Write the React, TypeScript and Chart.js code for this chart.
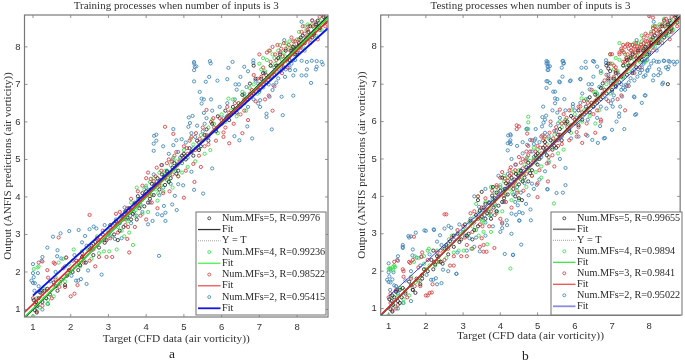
import React, { useEffect, useRef } from "react";
import { Chart, registerables } from "chart.js";

Chart.register(...registerables);

type P = [number, number];

const tickValues = [1, 2, 3, 4, 5, 6, 7, 8];
const titleA = "Training processes when number of inputs is 3";
const titleB = "Testing processes when number of inputs is 3";
const xTitle = "Target (CFD data (air vorticity))";
const yTitle = "Output (ANFIS predictions (air vorticity))";
const namesA = ["Num.MFs=5, R=0.9976", "Fit", "Y = T", "Num.MFs=4, R=0.99236", "Fit", "Num.MFs=3, R=0.98522", "Fit", "Num.MFs=2, R=0.95415", "Fit"];
const namesB = ["Num.MFs=5, R=0.99655", "Fit", "Y = T", "Num.MFs=4, R=0.9894", "Fit", "Num.MFs=3, R=0.9841", "Fit", "Num.MFs=2, R=0.95022", "Fit"];

const trainBlack: P[] = [[1.02,1.25],[1.05,0.98],[1.08,1.2],[1.1,0.92],[1.12,1.1],[1.2,1.45],[1.25,1.2],[1.3,1.5],[1.35,1.3],[1.45,1.4],[1.55,1.72],[1.65,1.5],[1.75,1.8],[1.85,1.65],[1.95,2.05],[2.05,2.0],[2.15,2.3],[2.2,2.05],[2.3,2.4],[2.4,2.25],[2.5,2.6],[2.6,2.45],[2.65,2.8],[2.75,2.65],[2.85,3.0],[2.95,2.85],[3.05,3.25],[3.15,3.0],[3.25,2.85],[3.35,3.5],[3.4,3.2],[3.5,3.45],[3.55,3.7],[3.65,3.55],[3.75,3.4],[3.78,4.02],[3.85,3.95],[3.95,3.75],[4.0,4.15],[4.1,3.95],[4.15,4.35],[4.2,4.05],[4.3,4.5],[4.35,4.2],[4.42,4.6],[4.5,4.32],[4.55,4.68],[4.65,4.5],[4.75,4.9],[4.85,4.7],[4.95,5.1],[5.05,5.0],[5.15,5.3],[5.25,5.1],[5.35,5.5],[5.45,5.35],[5.55,5.65],[5.65,5.5],[5.75,5.95],[5.85,5.75],[5.9,6.15],[6.0,5.95],[6.1,6.3],[6.2,6.05],[6.3,6.4],[6.4,6.25],[6.55,6.72],[6.7,6.6],[6.75,7.02],[6.85,6.75],[6.85,7.5],[6.9,7.15],[7.0,6.85],[7.1,7.3],[7.2,7.05],[7.3,7.5],[7.4,7.25],[7.5,7.7],[7.6,7.55],[7.7,7.9],[7.8,7.65],[7.9,8.0],[8.0,7.85],[8.1,8.25],[8.2,8.1],[8.3,8.4],[8.4,8.25],[8.5,8.6],[8.6,8.5],[8.7,8.8],[8.75,8.65],[1.15,1.3],[1.38,1.55],[1.6,1.62],[1.9,1.9],[2.25,2.18],[2.55,2.7],[2.9,2.78],[3.2,3.35],[3.3,3.1],[3.45,3.62],[3.6,3.4],[3.7,3.82],[3.82,3.7],[3.9,4.1],[4.05,3.85],[4.12,4.2],[4.25,4.32],[4.38,4.45],[4.48,4.55],[4.6,4.4],[4.7,4.78],[4.8,4.62],[5.0,5.15],[5.2,5.2],[5.4,5.25],[5.6,5.8],[6.15,6.15],[6.6,6.5],[7.05,7.15],[7.25,7.2],[7.45,7.5],[7.55,7.8],[7.65,7.45],[7.75,7.7],[7.85,7.9],[7.95,7.8],[8.05,8.1],[8.15,8.3],[8.25,8.2],[8.35,8.55],[8.45,8.35],[8.55,8.7]];

const trainGreen: P[] = [[1.0,0.82],[1.02,2.08],[1.12,2.12],[1.15,2.15],[1.1,1.3],[1.18,1.05],[1.25,1.35],[1.38,1.15],[1.4,1.25],[1.42,1.5],[1.55,1.35],[1.6,1.85],[1.68,2.25],[1.72,1.7],[1.8,2.35],[1.85,1.75],[1.95,2.2],[2.08,2.6],[2.1,2.15],[2.25,2.15],[2.3,2.55],[2.45,2.6],[2.55,2.35],[2.7,2.95],[2.75,2.5],[2.88,2.55],[3.0,3.1],[3.02,2.55],[3.15,3.3],[3.22,2.6],[3.35,3.1],[3.42,2.95],[3.55,3.05],[3.65,2.72],[3.7,3.5],[3.75,4.25],[3.85,3.75],[3.95,4.2],[4.05,3.6],[4.15,4.05],[4.2,4.5],[4.3,3.9],[4.45,4.15],[4.6,4.42],[4.7,4.25],[4.72,5.05],[4.85,4.55],[4.95,4.65],[5.1,4.8],[5.18,5.55],[5.2,5.2],[5.3,4.95],[5.45,5.65],[5.55,5.15],[5.7,5.25],[5.75,6.05],[5.9,5.7],[6.1,6.0],[6.18,6.62],[6.3,6.6],[6.4,6.15],[6.55,6.8],[6.65,6.3],[6.75,6.9],[6.95,6.75],[7.0,7.55],[7.05,7.4],[7.2,7.65],[7.3,7.15],[7.35,7.8],[7.45,7.35],[7.5,7.9],[7.6,7.65],[7.7,8.1],[7.75,7.6],[7.85,7.95],[7.95,7.75],[8.05,8.4],[8.15,8.0],[8.25,8.45],[8.35,8.2],[8.4,8.6],[8.5,8.3],[8.6,8.7],[8.65,8.45],[8.75,8.75],[1.3,1.55],[2.0,2.05],[2.35,2.3],[2.6,2.75],[3.1,2.95],[3.3,3.45],[3.45,3.6],[3.6,3.85],[3.72,3.65],[3.9,3.55],[4.0,4.3],[4.1,4.4],[4.25,4.2],[4.35,4.65],[4.4,4.3],[4.5,4.7],[4.55,4.45],[4.65,4.85],[4.8,4.95],[5.0,5.25],[5.4,5.3],[5.65,5.85],[7.1,7.7],[7.25,7.9],[7.4,7.7],[7.55,8.05],[7.65,7.85],[7.8,8.15],[7.9,7.9],[8.0,8.2],[8.2,8.55],[8.3,8.3],[3.25,3.2],[3.5,3.35],[3.8,3.9],[4.08,4.18],[4.22,4.32],[4.32,4.1],[4.48,4.6],[4.62,4.58],[4.78,4.7],[4.9,5.0],[5.05,5.1],[5.25,5.4],[5.5,5.5],[5.8,5.95],[6.0,6.2],[6.25,6.3],[6.45,6.5],[6.6,6.7],[6.85,7.0],[7.15,7.35],[7.3,7.5],[7.42,7.55],[7.52,7.72],[7.68,7.75],[7.75,8.0],[7.92,8.05],[8.1,8.2],[8.28,8.6],[8.45,8.5],[8.55,8.55]];

const trainRed: P[] = [[1.0,1.3],[1.05,1.15],[1.1,0.95],[1.15,2.25],[1.25,2.28],[1.25,1.1],[1.38,2.05],[1.4,1.85],[1.5,1.3],[1.55,2.25],[1.58,2.22],[1.68,2.92],[1.7,1.6],[1.8,2.1],[1.88,2.38],[1.85,1.6],[2.0,1.35],[2.1,1.42],[2.18,1.65],[2.22,2.25],[2.35,2.25],[2.5,3.52],[2.5,2.3],[2.65,2.15],[2.7,2.9],[2.75,2.4],[2.9,2.85],[2.95,2.4],[3.1,2.4],[3.2,3.55],[3.25,3.05],[3.4,3.4],[3.5,3.7],[3.5,2.88],[3.52,3.2],[3.55,2.52],[3.6,3.95],[3.7,3.2],[3.78,4.15],[3.85,3.5],[3.95,4.05],[4.0,3.4],[4.0,4.5],[4.1,4.02],[4.12,4.48],[4.2,4.42],[4.25,4.55],[4.3,3.7],[4.4,4.7],[4.45,4.1],[4.5,5.87],[4.55,4.9],[4.62,4.15],[4.72,5.68],[4.75,5.1],[4.85,4.55],[4.9,4.95],[5.0,3.98],[5.0,5.35],[5.05,4.7],[5.15,5.5],[5.25,4.88],[5.28,4.4],[5.32,5.7],[5.4,5.1],[5.5,5.85],[5.45,4.8],[5.6,6.32],[5.65,5.4],[5.72,6.0],[5.85,5.5],[5.95,6.1],[6.05,5.72],[6.05,5.6],[6.2,6.25],[6.2,5.43],[6.32,5.95],[6.45,6.5],[6.55,5.7],[6.6,6.3],[6.7,6.05],[6.9,6.55],[6.95,7.15],[7.0,7.8],[7.05,7.2],[7.15,6.6],[7.25,6.7],[7.35,6.3],[7.4,6.95],[7.45,7.65],[7.55,7.85],[7.6,7.3],[7.7,7.95],[7.75,7.45],[7.8,7.75],[7.88,8.0],[7.95,8.15],[8.05,8.2],[8.1,7.9],[8.2,8.35],[8.3,8.55],[8.35,8.1],[8.45,8.4],[8.5,8.65],[8.55,8.2],[8.7,8.85],[8.75,8.55],[1.2,1.5],[1.6,1.8],[2.05,2.3],[2.3,2.5],[2.6,2.6],[2.85,3.1],[3.05,2.9],[3.3,3.6],[3.45,3.25],[3.62,3.65],[3.8,3.85],[3.9,4.3],[4.05,4.65],[4.15,3.85],[4.28,4.78],[4.35,4.3],[4.5,4.5],[4.6,5.0],[4.7,4.6],[4.8,5.2],[5.1,5.15],[5.2,5.6],[5.55,5.35],[5.8,5.85],[6.1,5.85],[6.35,6.5],[6.5,6.2],[6.8,6.85],[7.1,7.45],[7.2,7.85],[7.3,7.6],[7.35,8.0],[7.5,7.5],[7.65,8.1],[7.72,7.65],[7.85,8.25],[8.0,8.0],[8.15,8.55],[8.25,8.25],[8.4,8.7],[8.6,8.8],[4.42,4.85],[4.58,4.6],[4.68,4.95],[4.82,4.85],[4.98,5.05],[5.08,5.3],[5.3,5.25],[5.42,5.55],[5.6,5.65],[5.78,6.1],[6.0,6.05],[6.15,6.4],[6.3,6.25],[6.6,6.6],[6.75,6.75],[6.85,7.25],[7.02,7.0],[7.18,7.25],[7.28,7.9],[7.42,7.8],[7.48,8.05],[7.58,7.95],[7.62,7.75],[7.78,8.05],[7.82,7.9],[7.9,8.15],[8.05,8.05],[8.12,8.4],[8.28,8.45],[8.42,8.55]];

const trainBlue: P[] = [[5.27,7.6],[5.27,7.56],[5.29,7.47],[5.33,7.48],[5.27,7.38],[5.27,7.08],[5.69,7.62],[5.71,7.56],[5.67,7.2],[5.89,7.1],[5.58,7.07],[5.42,6.8],[5.47,6.62],[5.53,6.6],[5.72,6.6],[5.47,6.49],[5.53,6.24],[5.23,6.16],[5.13,6.12],[5.16,5.97],[5.12,5.87],[4.72,5.81],[4.21,5.63],[4.27,5.66],[4.2,5.42],[4.27,5.5],[4.45,5.35],[4.2,5.23],[4.94,5.54],[4.8,5.51],[4.72,5.38],[6.29,7.6],[6.18,7.44],[6.15,7.14],[6.6,7.47],[6.7,7.35],[6.84,7.64],[6.84,7.57],[6.5,7.2],[6.37,7.0],[6.46,7.0],[6.4,6.86],[6.66,6.93],[6.97,7.02],[8.12,8.67],[8.4,8.71],[8.52,8.6],[7.66,8.18],[7.9,7.24],[7.59,6.67],[7.9,6.7],[7.62,6.18],[7.33,5.8],[6.81,5.56],[7.19,6.22],[7.19,6.13],[6.68,5.88],[6.47,5.51],[6.34,5.62],[5.75,4.76],[5.2,4.67],[7.9,7.64],[8.12,7.63],[8.26,7.6],[8.39,7.63],[8.52,7.62],[8.65,7.6],[8.68,7.53],[8.52,7.47],[8.5,7.4],[8.26,7.4],[8.12,7.24],[8.24,7.24],[8.37,7.04],[7.95,7.38],[7.81,7.38],[7.68,7.2],[7.5,7.16],[7.37,6.98],[7.1,6.92],[7.02,6.58],[7.02,6.4],[6.97,6.49],[7.27,6.67],[1.53,2.94],[1.96,3.09],[1.73,3.03],[2.21,3.12],[1.38,2.65],[1.25,2.4],[1.23,2.3],[1.65,2.58],[1.64,2.42],[1.75,2.36],[1.88,2.39],[1.0,2.21],[1.0,1.97],[1.13,1.97],[0.96,1.77],[1.02,1.86],[1.0,1.71],[1.05,1.7],[1.15,1.62],[1.04,1.5],[1.18,1.46],[1.24,1.5],[1.4,1.15],[1.25,1.0],[1.09,1.08],[2.42,1.68],[2.82,1.93],[4.34,2.43],[2.2,1.77],[2.27,1.81],[2.02,1.9],[2.14,1.77],[2.46,2.04],[2.3,2.79],[2.42,2.7],[2.61,3.21],[2.68,3.16],[2.5,3.14],[2.38,2.96],[2.9,3.25],[3.04,3.19],[3.17,2.88],[3.43,3.72],[3.41,3.54],[3.52,3.63],[3.79,3.94],[4.05,3.27],[4.17,3.36],[4.3,3.54],[4.42,3.51],[4.51,3.58],[4.51,3.36],[4.47,3.76],[4.69,3.8],[4.81,3.65],[4.76,4.03],[4.85,4.34],[5.51,4.09],[5.27,4.19],[4.98,4.31],[3.05,2.95],[3.3,3.3],[3.35,2.9],[3.6,3.3],[3.7,3.85],[3.9,3.6],[4.0,4.25],[4.1,3.85],[4.2,4.6],[4.35,4.05],[4.4,4.85],[4.5,4.5],[4.6,5.15],[4.65,4.35],[4.75,4.75],[4.85,5.2],[4.95,4.9],[5.05,5.45],[5.1,5.05],[5.2,5.7],[5.25,5.3],[5.35,5.9],[5.4,5.45],[5.5,5.75],[5.6,6.1],[5.65,5.6],[5.75,6.3],[5.85,5.8],[5.95,6.4],[6.05,6.1],[6.15,6.5],[6.25,6.2],[6.35,6.6],[6.5,6.4],[6.6,6.75],[6.75,6.65],[6.9,7.1],[7.0,6.8],[7.15,7.3],[7.25,7.0],[7.4,7.45],[7.45,7.05],[7.55,7.35],[7.7,7.4],[7.75,7.7],[7.85,7.55],[8.0,7.8],[8.1,8.0],[8.3,8.2],[8.45,8.3],[8.6,8.45],[1.45,1.75],[1.6,2.0],[1.85,2.15],[2.1,2.45],[2.35,2.4],[2.55,2.65],[2.75,2.85],[3.0,3.05],[3.2,3.4],[3.48,3.4],[3.58,3.5],[3.68,3.6],[3.75,3.5],[3.85,3.8],[3.95,4.0],[4.15,4.2],[4.28,4.4],[4.45,4.25],[4.55,4.7],[4.7,5.0],[4.9,5.05],[5.3,5.6],[5.55,5.95],[6.7,6.4],[6.85,6.6],[7.1,7.0],[7.3,7.2],[7.35,6.85],[7.6,7.4],[7.8,7.45],[7.95,7.65],[8.2,7.9]];

const extraBlack: P[] = [[1.1,1.35],[1.3,1.15],[1.65,1.5],[1.72,1.42],[1.9,1.8],[2.2,2.55],[2.45,2.2],[2.75,2.95],[3.1,2.95],[3.4,3.9],[3.5,4.12],[3.6,3.8],[3.8,4.25],[3.9,3.6],[4.05,4.5],[4.4,4.0],[4.5,3.95],[4.58,3.9],[4.75,4.4],[5.0,4.85],[5.2,5.45],[5.5,5.3],[5.8,6.0],[6.1,5.9],[6.4,6.65],[6.5,6.4],[6.7,6.9],[6.9,7.55],[6.9,7.42],[6.95,7.35],[7.1,6.95],[7.4,7.65],[7.55,7.3],[7.85,7.75],[8.25,8.1],[8.5,7.0],[8.55,8.4],[8.72,8.85]];
const extraGreen: P[] = [[1.0,2.05],[1.05,2.07],[1.17,2.11],[1.12,2.02],[1.7,2.4],[1.95,2.4],[2.05,2.55],[2.3,2.25],[2.62,2.85],[2.9,3.0],[3.2,3.3],[3.35,3.8],[3.4,4.0],[3.55,3.3],[3.75,3.05],[3.85,4.1],[4.1,4.55],[4.27,2.07],[4.5,3.9],[4.75,6.13],[4.75,5.98],[4.75,5.8],[4.9,5.3],[5.0,5.0],[5.1,4.5],[5.44,3.81],[5.3,5.55],[5.6,6.0],[5.9,6.3],[6.2,6.0],[6.5,6.8],[6.55,5.95],[6.7,7.3],[6.95,7.8],[7.05,7.1],[7.2,8.1],[7.4,8.05],[7.6,8.1],[7.8,8.3],[7.9,7.6],[8.1,8.55],[8.25,8.1],[8.4,8.75],[8.55,8.55]];
const extraRed: P[] = [[1.05,1.4],[1.2,1.0],[1.4,2.0],[1.45,1.45],[1.65,2.3],[1.8,1.75],[1.9,2.5],[2.05,1.35],[2.16,1.43],[2.4,2.55],[2.55,3.52],[2.75,2.15],[3.0,3.2],[3.1,2.7],[3.25,2.6],[3.4,4.0],[3.45,2.65],[3.55,2.7],[3.63,2.52],[3.75,3.6],[3.84,2.62],[3.9,4.25],[4.05,3.3],[4.25,4.7],[4.44,5.9],[4.44,5.8],[4.5,5.05],[4.7,5.2],[4.85,5.5],[5.0,4.35],[5.1,5.6],[5.3,5.05],[5.35,6.0],[5.55,5.5],[5.7,6.2],[5.85,6.3],[6.1,6.4],[6.3,5.65],[6.45,6.85],[6.7,6.0],[6.95,7.8],[6.95,7.55],[7.1,7.35],[7.2,7.8],[7.3,8.05],[7.35,7.6],[7.45,7.95],[7.5,7.75],[7.6,8.0],[7.65,7.7],[7.7,7.85],[7.8,8.0],[7.9,8.35],[8.0,8.1],[8.1,8.5],[8.2,8.15],[8.3,8.3],[8.45,8.75],[8.6,8.4],[8.72,8.7],[8.0,8.82],[8.1,8.78],[7.25,7.95],[7.32,7.85],[7.38,7.7],[7.42,8.08],[7.52,7.9],[7.55,8.05],[7.62,7.85],[7.68,8.0],[7.75,7.9],[7.85,8.1],[7.95,8.3],[8.05,8.35],[8.18,8.45],[8.35,8.6],[4.2,4.3],[4.3,4.6],[4.4,4.4],[4.6,4.75],[4.75,5.35],[4.95,5.2],[5.2,5.35],[5.45,5.75],[5.65,5.95],[5.9,5.9],[6.25,6.55],[6.55,6.55],[6.8,7.1],[7.05,7.5]];
const extraBlue: P[] = [[5.24,7.62],[5.24,7.55],[5.27,7.47],[5.29,7.38],[5.24,7.08],[5.24,6.9],[5.33,7.03],[5.47,6.8],[5.6,7.05],[5.67,7.62],[5.69,7.55],[5.65,7.44],[5.87,7.08],[6.15,7.13],[6.3,7.44],[6.49,7.62],[6.52,7.6],[6.2,6.75],[5.95,6.47],[6.0,6.3],[5.15,6.4],[5.13,5.63],[4.28,5.63],[4.25,5.45],[4.28,5.4],[4.7,5.8],[4.92,5.5],[4.9,5.4],[7.25,6.85],[7.12,6.0],[7.22,6.4],[6.78,5.55],[6.62,5.43],[7.0,5.78],[7.6,6.65],[7.88,6.7],[7.8,6.5],[7.65,6.2],[8.35,7.0],[8.1,7.1],[8.3,7.3],[7.75,7.3],[7.85,7.6],[8.05,7.55],[8.2,7.6],[8.4,7.62],[8.55,7.6],[8.45,7.45],[8.75,7.6],[8.0,7.45],[7.95,7.35],[7.85,7.2],[7.6,7.1],[7.45,6.95],[4.12,2.46],[4.34,2.44],[4.56,2.71],[5.75,4.3],[5.68,4.1],[5.26,4.19],[4.82,3.36],[4.51,3.35],[4.18,3.23],[3.45,2.53],[2.82,1.93],[1.55,2.9],[1.6,2.93],[1.38,2.7],[1.38,2.62],[2.0,3.08],[2.22,3.1],[1.05,2.05],[1.1,1.78],[1.2,1.6],[1.25,1.4],[1.6,1.2],[2.3,1.65],[2.6,2.0],[2.85,2.5],[3.1,2.55],[3.3,2.65],[3.6,2.95],[3.8,3.2],[4.0,3.05],[4.05,3.15],[4.3,3.0],[4.4,3.85],[4.6,3.55],[4.55,4.1],[4.9,4.2],[5.05,4.45],[5.3,4.9],[5.6,5.0],[5.9,5.55],[6.1,5.6],[6.35,6.05],[6.6,6.1],[6.85,6.35],[7.05,6.7],[7.3,6.9],[3.3,4.0],[3.6,4.2],[3.95,4.55],[4.3,5.0],[4.6,5.45],[4.95,5.8],[5.2,6.05],[5.4,6.3],[6.9,7.25]];

const trainLines = {
  black: [[0.78, 0.78], [8.82, 8.82]] as P[],
  green: [[0.78, 0.8], [8.82, 8.78]] as P[],
  red: [[0.78, 0.93], [8.82, 8.7]] as P[],
  blue: [[1, 1.37], [8.82, 8.5]] as P[],
};
const testLines = {
  black: [[0.79, 0.82], [8.83, 8.82]] as P[],
  green: [[0.82, 0.85], [8.83, 8.74]] as P[],
  red: [[0.82, 0.86], [8.83, 8.78]] as P[],
  blue: [[1, 1.33], [8.83, 8.5]] as P[],
};
const identityLine: P[] = [[0.78, 0.78], [8.83, 8.83]];

const testBlack = [...trainBlack, ...extraBlack];
const testGreen = [...trainGreen, ...extraGreen];
const testRed = [...trainRed, ...extraRed];
const testBlue = [...trainBlue, ...extraBlue];

const MARK = { black: "#2b2b2b", green: "#35dd45", red: "#d8393f", blue: "#3b83b8" };
const SERIF = "'Liberation Serif', serif";
const SANS = "'Liberation Sans', sans-serif";
const TICKCOL = "#787878";

const toXY = (a: P[]) => a.map(([x, y]) => ({ x, y }));

interface Panel {
  title: string; names: string[]; width: number; pad: number; areaLeft: number; axisH: number;
  xMin: number; xMax: number; yMin: number; yMax: number;
  yTitlePad: number; xTitlePad: number; legend: number[]; rowStart: number; rowStep: number;
  points: P[][]; lines: P[][]; widths: number[]; lineCols: string[]; legendCols: string[]; legendW: number[];
}

const panels: Panel[] = [
  { title: titleA, names: namesA, width: 345, pad: 17, areaLeft: 24.5, axisH: 46, xMin: 0.775, xMax: 8.82, yMin: 0.8, yMax: 8.85,
    yTitlePad: 1.5, xTitlePad: 17.2, legend: [196, 212, 130, 103], rowStart: 218.3, rowStep: 11.25,
    points: [trainBlack, trainGreen, trainRed, trainBlue], lines: [trainLines.black, trainLines.green, trainLines.red, trainLines.blue],
    widths: [1.5, 1.5, 1.5, 2], lineCols: ["#222222", "#30e030", "#e02828", "#0a12e8"],
    legendCols: ["#333333", "#66ee66", "#ee4444", "#1515dd"], legendW: [1.3, 1.5, 1.2, 1.8] },
  { title: titleB, names: namesB, width: 340, pad: 2, areaLeft: 35.7, axisH: 47.7, xMin: 0.787, xMax: 8.83, yMin: 0.82, yMax: 8.85,
    yTitlePad: 10.7, xTitlePad: 20, legend: [206, 212, 131, 103], rowStart: 218.3, rowStep: 11,
    points: [testBlack, testGreen, testRed, testBlue], lines: [testLines.black, testLines.green, testLines.red, testLines.blue],
    widths: [1.5, 0.9, 1.3, 0.9], lineCols: ["#222222", "#30e030", "#e02828", "#2a30e8"],
    legendCols: ["#777777", "#33e033", "#ee5050", "#8d8de0"], legendW: [1.6, 1.2, 1.3, 1.8] },
];

function ChartPanel({ p, left }: { p: Panel; left: number }) {
  const ref = useRef<HTMLCanvasElement>(null);
  useEffect(() => {
    const frame = {
      id: "frameAndLegend",
      afterDatasetsDraw(chart: any) {
        const { ctx, chartArea: a, scales } = chart;
        ctx.save();
        ctx.strokeStyle = TICKCOL;
        ctx.lineWidth = 0.8;
        ctx.beginPath();
        tickValues.forEach((v) => {
          const x = scales.x.getPixelForValue(v);
          const y = scales.y.getPixelForValue(v);
          ctx.moveTo(x, a.bottom); ctx.lineTo(x, a.bottom - 3);
          ctx.moveTo(x, a.top); ctx.lineTo(x, a.top + 3);
          ctx.moveTo(a.left, y); ctx.lineTo(a.left + 3, y);
          ctx.moveTo(a.right, y); ctx.lineTo(a.right - 3, y);
        });
        ctx.stroke();
        ctx.lineWidth = 1.2;
        ctx.strokeRect(a.left, a.top, a.right - a.left, a.bottom - a.top);

        const [bx, by, bw, bh] = p.legend;
        ctx.fillStyle = "#ffffff";
        ctx.fillRect(bx, by, bw, bh);
        ctx.strokeStyle = "#707070";
        ctx.lineWidth = 1;
        ctx.strokeRect(bx, by, bw, bh);
        ctx.font = `10.2px ${SERIF}`;
        ctx.textBaseline = "middle";
        chart.data.datasets.forEach((d: any, i: number) => {
          const y = p.rowStart + i * p.rowStep;
          const sx = bx + 2, ex = bx + 24.5;
          if (d.showLine) {
            ctx.strokeStyle = d.legendColor;
            ctx.lineWidth = d.legendWidth;
            ctx.setLineDash(d.dotted ? [0.8, 1.2] : []);
            ctx.beginPath(); ctx.moveTo(sx, y); ctx.lineTo(ex, y); ctx.stroke();
            ctx.setLineDash([]);
          } else {
            ctx.strokeStyle = d.borderColor;
            ctx.lineWidth = 0.8;
            ctx.beginPath(); ctx.arc((sx + ex) / 2, y, 1.5, 0, Math.PI * 2); ctx.stroke();
          }
          ctx.fillStyle = "#262626";
          ctx.fillText(d.label, ex + 1.5, y);
        });
        ctx.restore();
      },
    };
    const scatter = (label: string, data: P[], color: string, order: number) => ({
      label, data: toXY(data), showLine: false, borderColor: color, backgroundColor: "transparent",
      pointRadius: 1.6, pointBorderWidth: 0.85, order,
    });
    const line = (label: string, data: P[], color: string, w: number, order: number, lc: string, lw: number, dotted = false) => ({
      label, data: toXY(data), showLine: true, borderColor: color, backgroundColor: color, borderWidth: w,
      borderDash: dotted ? [1, 1.5] : [], pointRadius: 0, order, legendColor: lc, legendWidth: lw, dotted,
    });
    const n = p.names;
    const chart = new Chart(ref.current!, {
      type: "scatter",
      plugins: [frame],
      data: {
        datasets: [
          scatter(n[0], p.points[0], MARK.black, 3),
          line(n[1], p.lines[0], p.lineCols[0], p.widths[0], 2.9, p.legendCols[0], p.legendW[0]),
          line(n[2], identityLine, "#222222", 0.6, 2.8, "#555555", 0.7, true),
          scatter(n[3], p.points[1], MARK.green, 7),
          line(n[4], p.lines[1], p.lineCols[1], p.widths[1], 2.7, p.legendCols[1], p.legendW[1]),
          scatter(n[5], p.points[2], MARK.red, 5),
          line(n[6], p.lines[2], p.lineCols[2], p.widths[2], 2.6, p.legendCols[2], p.legendW[2]),
          scatter(n[7], p.points[3], MARK.blue, 9),
          line(n[8], p.lines[3], p.lineCols[3], p.widths[3], 2.5, p.legendCols[3], p.legendW[3]),
        ] as any,
      },
      options: {
        animation: false,
        responsive: false,
        layout: { padding: { left: 0, right: p.pad, top: 0, bottom: 0 } },
        plugins: {
          legend: { display: false },
          tooltip: { enabled: false },
          title: {
            display: true, text: p.title, fullSize: false, color: "#333333",
            font: { family: SERIF, size: 11, weight: "normal", lineHeight: 1.2 },
            padding: { top: 0, bottom: 1.8 },
          },
        },
        scales: {
          x: {
            type: "linear", min: p.xMin, max: p.xMax,
            grid: { display: false, drawTicks: false }, border: { display: false },
            ticks: { stepSize: 1, includeBounds: false, maxRotation: 0, padding: 5, color: "#333333", font: { family: SANS, size: 9.5 } },
            title: { display: true, text: xTitle, color: "#333333", font: { family: SERIF, size: 11.4, lineHeight: 1.2 }, padding: { top: 0, bottom: p.xTitlePad } },
            afterFit: (s: any) => { s.height = p.axisH; },
          },
          y: {
            type: "linear", min: p.yMin, max: p.yMax,
            grid: { display: false, drawTicks: false }, border: { display: false },
            ticks: { stepSize: 1, includeBounds: false, padding: 4, color: "#333333", font: { family: SANS, size: 9.5 } },
            title: { display: true, text: yTitle, color: "#333333", font: { family: SERIF, size: 11.1, lineHeight: 1.2 }, padding: { top: p.yTitlePad, bottom: 0 } },
            afterFit: (s: any) => { s.width = p.areaLeft; },
          },
        },
      } as any,
    });
    return () => chart.destroy();
  }, [p]);
  return <canvas ref={ref} width={p.width} height={363} style={{ position: "absolute", left, top: 0, width: p.width, height: 363 }} />;
}

const caption = (text: string, x: number, y: number) => (
  <div style={{ position: "absolute", left: x, top: y, font: `13.5px ${SERIF}`, color: "#222", lineHeight: "14px" }}>{text}</div>
);

export default function App() {
  return (
    <div style={{ position: "absolute", left: 0, top: 0, width: 685, height: 363, background: "#fff", overflow: "hidden" }}>
      <ChartPanel p={panels[0]} left={0} />
      <ChartPanel p={panels[1]} left={345} />
      {caption("a", 169, 347)}
      {caption("b", 522, 349)}
    </div>
  );
}
